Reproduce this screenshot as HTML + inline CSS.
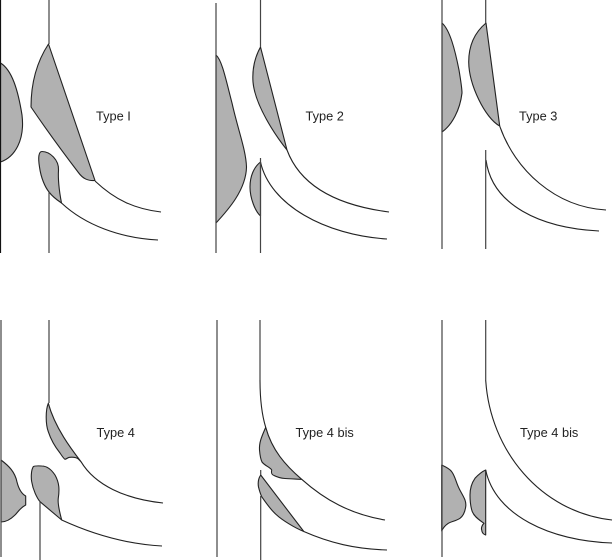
<!DOCTYPE html>
<html><head><meta charset="utf-8">
<style>
html,body{margin:0;padding:0;background:#fff;width:613px;height:560px;overflow:hidden}
svg{display:block}
.s{fill:#b1b1b1;stroke:#222;stroke-width:1.1;stroke-linejoin:round}
.l{fill:none;stroke:#222;stroke-width:1.1}
.v{fill:none;stroke:#444;stroke-width:1.2}
text{font-family:"Liberation Sans",sans-serif;font-size:12.8px;fill:#222}
</style></head><body>
<svg width="613" height="560" viewBox="0 0 613 560" xmlns="http://www.w3.org/2000/svg">
<!-- Panel 1 -->
<path class="s" d="M0.5,63 C12,70 18,90 22,115 C25,140 15,157 0.5,162 Z"/>
<path class="s" d="M48.500,44 C38,60 31,80 31,107 C50,135 65,155 78,172 C83,179 88,181 95,180.500 Z"/>
<path class="s" d="M61.500,203 C59,190 58,178 58.500,170 C59,160 50,151.500 42,151.500 C38.500,151.500 38,158 39.500,167 C41,178 45,187 49,192 C52,196 57,200 61.500,203 Z"/>
<path class="l" d="M95,181 C115,200 135,209 161,212"/>
<path class="l" d="M61.500,203 C85,225 120,238 158,240"/>
<path class="v" style="stroke:#111" d="M0.5,0 V253"/>
<path class="v" d="M49,0 V44 M49,192 V253"/>
<text x="96" y="120.500">Type I</text>
<!-- Panel 2 -->
<path class="s" d="M216,55 C222,60 226,80 232,103 C238,130 246,150 246.500,167 C246,190 228,210 216,223 Z"/>
<path class="s" d="M260.500,47 C255,57 252,68 253,82 C255,105 275,135 287,150 Z"/>
<path class="s" d="M260.500,162 C254,167 250,176 250,187 C250,198 255,211 260.500,216 Z"/>
<path class="l" d="M287,150 C300,185 335,205 389,212"/>
<path class="l" d="M260.500,162 C270,205 325,235 387,239"/>
<path class="v" d="M216,3 V253 M260.500,0 V47 M260.500,158 V253"/>
<text x="305.500" y="120.500">Type 2</text>
<!-- Panel 3 -->
<path class="s" d="M442,23 C450,30 455,50 459,70 C461,82 462,90 462,93 C460,110 452,125 442,132 Z"/>
<path class="s" d="M486,23 C474,33 468.700,47 468.700,62 C469,85 485,118 499.700,126 Z"/>
<path class="l" d="M499.700,126 C515,170 555,207 606,210"/>
<path class="l" d="M486,160 C492,205 540,228 599,231"/>
<path class="v" d="M442,0 V249 M485.700,0 V23 M485.700,150 V249"/>
<text x="519" y="120.500">Type 3</text>
<!-- Panel 4 -->
<path class="s" d="M1,460 C9,466 15,472 17,482 C19,490 22,494 25.700,496 L25.700,505 C20,508 18,512 15,515 C10,520 5,522 1,522 Z"/>
<path class="s" d="M48.300,403.300 C45.500,410 45.500,424 48.300,431.700 C51,440 56,448 60,453 C62,456 64,459 65,459.300 C67,459 68,457 70,457.300 C74,457 77,458 78.300,459 L81,461.700 C72,450 55,428 48.300,403.300 Z"/>
<path class="s" d="M61.700,520 C59,510 57.500,503 58.300,498 C59.500,490 59.500,483 55,475 C51,469 46,466 41.700,466 C38,465.800 34,466 33.300,466.700 C31,470 31,478 31.700,481.700 C33,490 37,498 40,501.700 Z"/>
<path class="l" d="M81,461.700 C95,485 125,499 163,503"/>
<path class="l" d="M61.700,520 C90,533 125,544 162,546"/>
<path class="v" d="M1,320 V557 M49,320 V403 M40,501 V560"/>
<text x="96.500" y="436.800">Type 4</text>
<!-- Panel 5 -->
<path class="s" d="M265.700,427.300 C262,436 259,442 259.500,450 C260,456 261,460 262,462 C265,466 270,467 271.700,470 C271,473 272,475 274,475.500 C278,477.500 282,478.300 285,478.500 C290,479 296,479 301.700,479.300 C285,465 272,450 265.700,427.300 Z"/>
<path class="s" d="M260.700,475 C258,479 257.800,483 258.500,487 C259.500,491 260.500,494 261.700,496.700 C266,503 272,511 276.700,515 C282,520 295,528 303.800,531.500 Z"/>
<path class="l" d="M260,380 C260,395 261,412 265.700,427.300 M301.700,479.300 C325,500 350,514 385,520"/>
<path class="l" d="M303.800,531.500 C330,543 355,549 387,550"/>
<path class="v" d="M217,320 V557 M260,320 V380 M260.700,470 V475 M260.700,496 V560"/>
<text x="295.500" y="436.800">Type 4 bis</text>
<!-- Panel 6 -->
<path class="s" d="M441.700,465 C446,467 450,469 451.700,471.700 C455,476 456,482 458.300,486.700 C460,491 463,495 465,500 C466,503 466,505 465.700,506.700 C465,512 463,516 460,518.300 C456,521 451,521.500 448.300,523.300 C445,525.500 443,528 441.700,531 Z"/>
<path class="s" d="M485.700,470 C481,472 478,475 475,478.300 C471,484 470,490 470,495 C470,502 471,508 472.300,511.700 C474,516 478,519 481.700,521.700 L484,523.300 C482,525 481,528 481.700,530 C482,533 484,534.500 485.700,535 Z"/>
<path class="l" d="M485.700,380 C490,450 540,512 612,520"/>
<path class="l" d="M485.700,470 C495,515 550,541 612,543"/>
<path class="v" d="M442,320 V557 M485.700,320 V380"/>
<text x="520" y="436.800">Type 4 bis</text>
</svg>
</body></html>
